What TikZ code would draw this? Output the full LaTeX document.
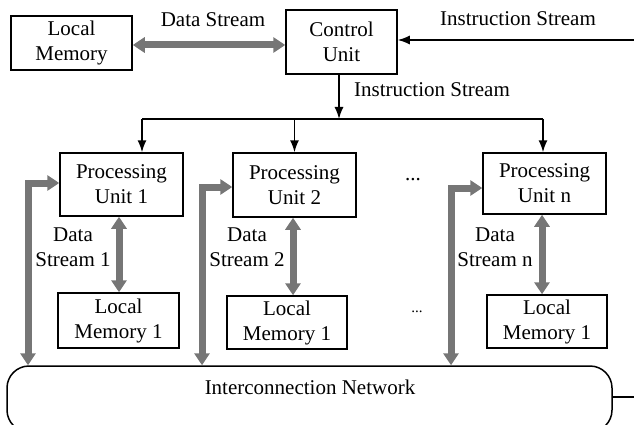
\documentclass[tikz,border=0pt]{standalone}
\usepackage{fontspec}
\setmainfont{Liberation Serif}
\usetikzlibrary{arrows.meta}
\definecolor{garr}{RGB}{118,118,118}
\begin{document}
\begin{tikzpicture}[x=1pt,y=-1pt,
  every node/.style={font=\fontsize{21}{25}\selectfont, inner sep=0pt},
  box/.style={draw, line width=1.5pt, align=center, minimum width=#1},
  lbl/.style={align=center},
  ctl/.style={line width=1.5pt, -{Latex[length=12pt,width=9pt]}},
  gdbl/.style={draw=garr, line width=7pt, {Triangle[length=12pt,width=15pt]}-{Triangle[length=12pt,width=15pt]}}
]
\useasboundingbox (0,0) rectangle (634,425);
\begin{scope}
\clip (0,0) rectangle (634,425);
% top row
\node[box=121, minimum height=54] (lm0) at (71.5,43) {Local\\Memory};
\node[box=111, minimum height=64] (cu) at (341.5,42) {Control\\Unit};
% processing units
\node[box=123, minimum height=63] (pu1) at (121.5,184.5) {Processing\\Unit 1};
\node[box=123, minimum height=64] (pu2) at (294.5,185) {Processing\\Unit 2};
\node[box=123, minimum height=61] (pun) at (544.5,183.5) {Processing\\Unit n};
% local memories
\node[box=121, minimum height=55] (lm1) at (118.5,320.5) {Local\\Memory 1};
\node[box=120, minimum height=53] (lm2) at (287,322.5) {Local\\Memory 1};
\node[box=120, minimum height=53] (lmn) at (547,321.5) {Local\\Memory 1};
% network
\node[draw, line width=1.5pt, rounded corners=22pt, minimum width=605, minimum height=66] (net) at (309.5,399) {};
\node (nettxt) at (310,387) {Interconnection Network};
% labels
\node (ds0) at (213,20) {Data Stream};
\node (is0) at (518,19) {Instruction Stream};
\node (is1) at (432,90) {Instruction Stream};
\node[lbl] (ds1) at (73,247) {Data\\Stream 1};
\node[lbl] (ds2) at (247,247) {Data\\Stream 2};
\node[lbl] (dsn) at (495,247) {Data\\Stream n};
\node (dots1) at (413,180) {...};
\node[font=\fontsize{15}{17}\selectfont] (dots2) at (417,312) {...};
% coordinates
\coordinate (isin) at (634,40);
\coordinate (busL) at (142,119);
\coordinate (busR) at (543,119);
\coordinate (netin) at (634,397);
\coordinate (c1) at (28,0);
\coordinate (c2) at (202,0);
\coordinate (cn) at (451,0);
% data stream top
\draw[gdbl] (lm0.east |- 0,45) -- (cu.west |- 0,45);
% instruction streams
\draw[ctl] (isin) -- (cu.east |- isin);
\draw[ctl] ([xshift=-2.5pt]cu.south) -- ([xshift=-2.5pt]cu.south |- busL);
\draw[line width=1.5pt] (busL) -- (busR);
\draw[ctl] (busL) -- (busL |- pu1.north);
\draw[ctl] (pu2.north |- busL) -- (pu2.north);
\draw[ctl] (busR) -- (busR |- pun.north);
% local data streams
\draw[gdbl] ([xshift=-2.5pt]pu1.south) -- ([xshift=-2.5pt]pu1.south |- lm1.north);
\draw[gdbl] ([xshift=-1.5pt]pu2.south) -- ([xshift=-1.5pt]pu2.south |- lm2.north);
\draw[gdbl] ([xshift=-2.5pt]pun.south) -- ([xshift=-2.5pt]pun.south |- lmn.north);
% network links
\draw[gdbl] ([yshift=1.5pt]pu1.west) -| (c1 |- net.north);
\draw[gdbl] ([yshift=-2pt]pu2.west) -| (c2 |- net.north);
\draw[gdbl] ([yshift=-4.5pt]pun.west) -| (cn |- net.north);
\draw[line width=1.5pt] (net.east |- netin) -- (netin);
\end{scope}
\end{tikzpicture}
\end{document}
